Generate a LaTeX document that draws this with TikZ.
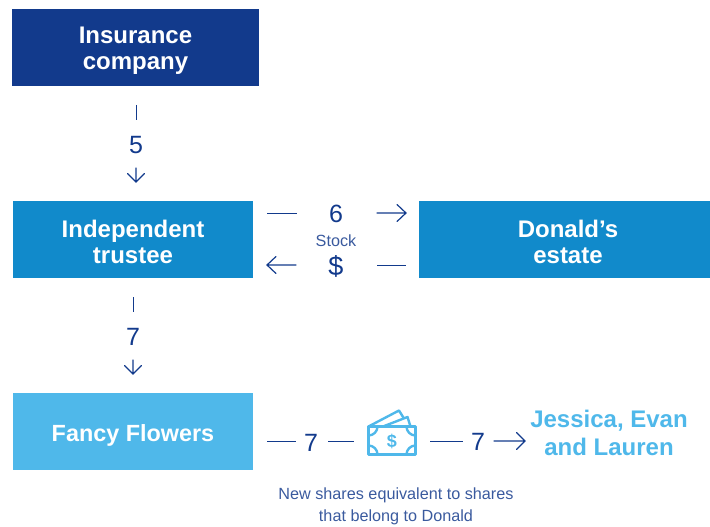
\documentclass[tikz,border=0pt]{standalone}
\usepackage{fontspec}
\usepackage{xcolor}
\setmainfont{Liberation Sans}
\definecolor{navy}{HTML}{123A8C}
\definecolor{midblue}{HTML}{118ACB}
\definecolor{lightblue}{HTML}{4FB8EA}
\definecolor{textblue}{HTML}{3A5A9E}
\begin{document}
\begin{tikzpicture}[x=1pt,y=-1pt]
	\tikzstyle{party} = [minimum height=77pt, inner sep=0pt]
	\tikzstyle{tag} = [text=white, align=center, inner sep=0pt, yshift=-2.5pt,
		font=\fontsize{24}{26.5}\selectfont\bfseries]
	\tikzstyle{num} = [text=navy, inner sep=0pt, font=\fontsize{25}{28}\selectfont]
	\tikzstyle{note} = [text=textblue, align=center, inner sep=0pt, font=\fontsize{16.2}{22}\selectfont]
	\tikzstyle{link} = [draw=navy, line width=1pt]
	\tikzstyle{arrow} = [link, line width=1.2pt, line cap=round]
	\tikzstyle{icon} = [draw=lightblue, line width=2.4pt, line join=round]
	\useasboundingbox (0,0) rectangle (710,527);

		\node[party, fill=navy, minimum width=247pt, label={[tag]center:{Insurance\\company}}] (insurance) at (135.5,48) {};
		\node[party, fill=midblue, minimum width=240pt, label={[tag]center:{Independent\\trustee}}] (trustee) at (133,239.5) {};
		\node[party, fill=midblue, minimum width=291pt, label={[tag, xshift=3.5pt]center:{Donald’s\\estate}}] (estate) at (564.5,239.5) {};
		\node[party, fill=lightblue, minimum width=240pt, label={[tag, yshift=-1pt, font=\fontsize{23.4}{26}\selectfont\bfseries]center:{Fancy Flowers}}] (flowers) at (133,431.5) {};
		\node[text=lightblue, align=center, inner sep=0pt, font=\fontsize{24}{28}\selectfont\bfseries] (heirs) at (609,433) {Jessica, Evan\\and Lauren};

		\node[num] (five) at (136,145) {5};
		\node[num] (six) at (336,214) {6};
		\node[note] (stock) at (336,241) {Stock};
		\node[num, font=\fontsize{27}{28}\selectfont] (dollar) at (336,266) {\$};
		\node[num] (seventop) at (133,337) {7};
		\node[num] (sevena) at (311,443) {7};
		\node[num] (sevenb) at (478,442) {7};
		\node[note] (shares) at (396,506) {New shares equivalent to shares\\that belong to Donald};

		% stubs and arrows
		\coordinate (p1) at (136,105);
		\coordinate (p2) at (136,120);
		\coordinate (p3) at (136,168);
		\coordinate (p4) at (136,182);
		\draw[link] (p1) -- (p2);
		\draw[arrow] (p3) -- (p4) (127.5,173.5) -- (p4) -- (144.5,173.5);

		\coordinate (q1) at (133,297);
		\coordinate (q2) at (133,312);
		\coordinate (q3) at (133,360);
		\coordinate (q4) at (133,374);
		\draw[link] (q1) -- (q2);
		\draw[arrow] (q3) -- (q4) (124.5,365.5) -- (q4) -- (141.5,365.5);

		\coordinate (r1) at (267,213);
		\coordinate (r2) at (297,213);
		\coordinate (r3) at (377,213);
		\coordinate (r4) at (406,213);
		\draw[link] (r1) -- (r2);
		\draw[arrow] (r3) -- (r4) (397,204.5) -- (r4) -- (397,221.5);

		\coordinate (s1) at (296,265);
		\coordinate (s2) at (267,265);
		\coordinate (s3) at (377,265);
		\coordinate (s4) at (406,265);
		\draw[arrow] (s1) -- (s2) (276,256.5) -- (s2) -- (276,273.5);
		\draw[link] (s3) -- (s4);

		\coordinate (t1) at (267,441);
		\coordinate (t2) at (296,441);
		\coordinate (t3) at (328,441);
		\coordinate (t4) at (354,441);
		\coordinate (t5) at (430,441);
		\coordinate (t6) at (463,441);
		\coordinate (t7) at (494,441);
		\coordinate (t8) at (525,441);
		\draw[link] (t1) -- (t2);
		\draw[link] (t3) -- (t4);
		\draw[link] (t5) -- (t6);
		\draw[arrow] (t7) -- (t8) (516.5,432.5) -- (t8) -- (516.5,449.5);

		% banknotes
		\draw[icon] (368.5,426.5) rectangle (415.5,454.5);
		\draw[icon] (368.5,426.5) -- (399,410.5) -- (404,418.5);
		\draw[icon] (383,426.5) -- (407.5,417) -- (410.5,426.5);
		\draw[icon] (368.5,435.5) arc (90:0:9) (406.5,426.5) arc (180:90:9)
			(368.5,445.5) arc (-90:0:9) (406.5,454.5) arc (180:270:9);
		\node[text=lightblue, inner sep=0pt, font=\fontsize{18}{18}\selectfont\bfseries] (bill) at (392,441) {\$};
	\end{tikzpicture}
\end{document}
